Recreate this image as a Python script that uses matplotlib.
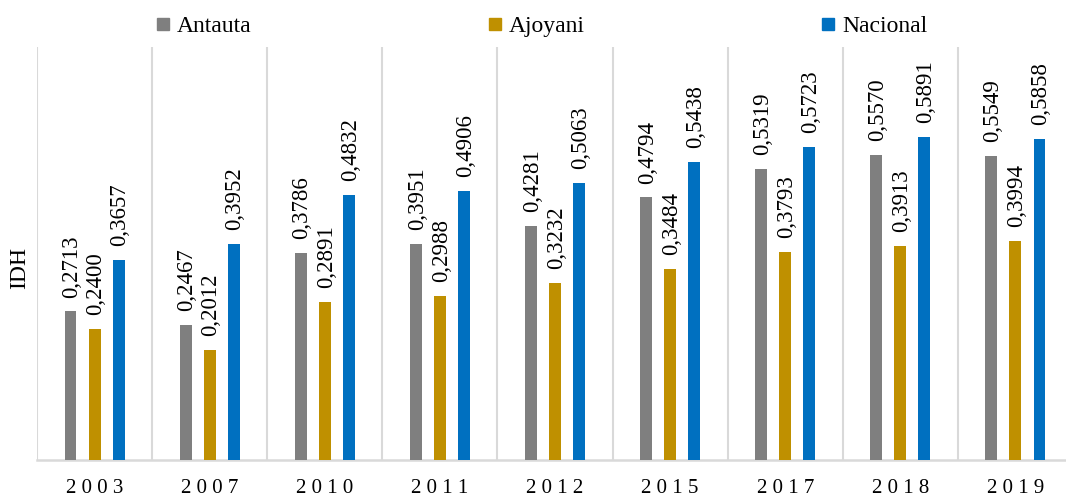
import numpy as np
import matplotlib
matplotlib.use("Agg")
import matplotlib.pyplot as plt
from matplotlib.lines import Line2D

plt.rcParams["font.family"] = ["Liberation Serif", "DejaVu Serif"]

years    = ["2003", "2007", "2010", "2011", "2012", "2015", "2017", "2018", "2019"]
antauta  = [0.2713, 0.2467, 0.3786, 0.3951, 0.4281, 0.4794, 0.5319, 0.5570, 0.5549]
ajoyani  = [0.2400, 0.2012, 0.2891, 0.2988, 0.3232, 0.3484, 0.3793, 0.3913, 0.3994]
nacional = [0.3657, 0.3952, 0.4832, 0.4906, 0.5063, 0.5438, 0.5723, 0.5891, 0.5858]

series_names  = ["Antauta", "Ajoyani", "Nacional"]
series_colors = ["#7F7F7F", "#BF9000", "#0070C0"]

W, H = 1066, 500
fig = plt.figure(figsize=(W / 100, H / 100), dpi=100)
ax = fig.add_axes([37 / W, 40 / H, 1036 / W, 413 / H])

x = np.arange(len(years))
offset = 0.209
width = 0.104

for k, (vals, col) in enumerate(zip([antauta, ajoyani, nacional], series_colors)):
    pos = x + (k - 1) * offset
    ax.bar(pos, vals, width=width, color=col, zorder=3)
    for p, v in zip(pos, vals):
        ax.annotate(f"{v:.4f}".replace(".", ","), (p, v),
                    xytext=(1, 10), textcoords="offset points",
                    rotation=90, ha="center", va="bottom",
                    fontsize=16.5, color="#000000")

ax.set_xlim(-0.5, 8.5)
ax.set_ylim(0, 0.754)

# group separators
for b in np.arange(-0.5, len(years), 1.0):
    ax.axvline(b, color="#D9D9D9", lw=1.5, zorder=1)

for s in ["top", "right", "left"]:
    ax.spines[s].set_visible(False)
ax.spines["bottom"].set_color("#D9D9D9")
ax.spines["bottom"].set_linewidth(1.8)

ax.set_yticks([])
ax.set_xticks(x)
ax.set_xticklabels([" ".join(y) for y in years], fontsize=15)
ax.tick_params(axis="x", length=0, pad=14)

fig.text(20 / W, 1 - 268 / H, "IDH", rotation=90, ha="center", va="center",
         fontsize=17)

handles = [Line2D([], [], marker="s", linestyle="none", markersize=8.6,
                  markerfacecolor=c, markeredgecolor=c) for c in series_colors]
fig.legend(handles, series_names, loc="center left",
           bbox_to_anchor=(156 / W, 1 - 26 / H), ncol=3, frameon=False,
           fontsize=17, handlelength=0.6, handletextpad=0.3,
           columnspacing=10.0, borderaxespad=0, borderpad=0)

fig.savefig("out.png", dpi=100)
